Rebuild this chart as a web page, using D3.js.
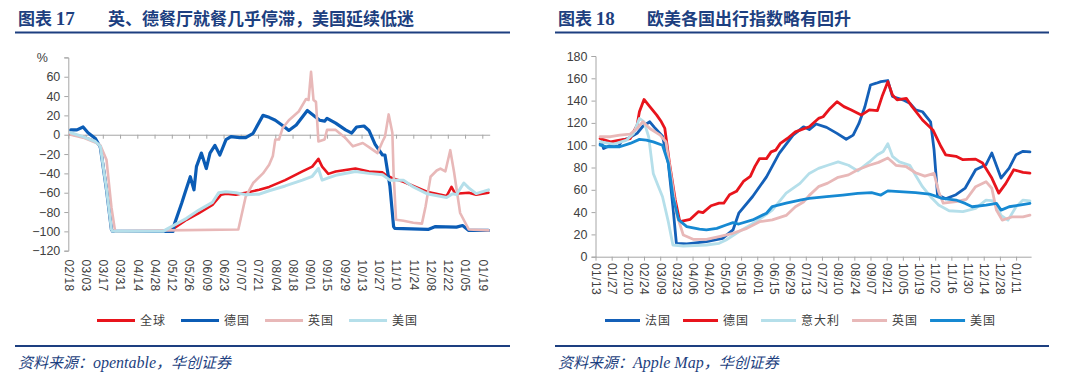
<!DOCTYPE html>
<html>
<head>
<meta charset="utf-8">
<script src="https://cdn.jsdelivr.net/npm/d3@7"></script>
<style>
  body { margin: 0; background: #fff; }
</style>
</head>
<body>
<div id="chart"></div>
<script>
// ---- chart 17: restaurant dining (opentable), % yoy ----
const diningNames = ["全球", "德国", "英国", "美国"];
const diningColors = ["#e8141c", "#0b5cb5", "#e8b8b8", "#b5dfea"];
const diningTicks = ["2020-02-18", "2020-03-03", "2020-03-17", "2020-03-31", "2020-04-14", "2020-04-28",
  "2020-05-12", "2020-05-26", "2020-06-09", "2020-06-23", "2020-07-07", "2020-07-21", "2020-08-04",
  "2020-08-18", "2020-09-01", "2020-09-15", "2020-09-29", "2020-10-13", "2020-10-27", "2020-11-10",
  "2020-11-24", "2020-12-08", "2020-12-22", "2021-01-05", "2021-01-19"];
const diningYTicks = [-120, -100, -80, -60, -40, -20, 0, 20, 40, 60, 80];

const diningGlobal = [["2020-02-20", 0.5], ["2020-03-01", -2], ["2020-03-11", -7], ["2020-03-15", -12],
  ["2020-03-20", -55], ["2020-03-24", -98], ["2020-03-25", -100], ["2020-05-08", -100], ["2020-05-13", -97.6],
  ["2020-05-24", -88], ["2020-06-03", -81], ["2020-06-14", -72.7], ["2020-06-21", -62], ["2020-06-25", -61],
  ["2020-07-03", -62], ["2020-07-11", -60], ["2020-07-22", -57], ["2020-07-30", -54], ["2020-08-12", -47],
  ["2020-08-26", -38], ["2020-09-03", -33], ["2020-09-08", -25], ["2020-09-11", -33], ["2020-09-16", -40.5],
  ["2020-09-22", -38], ["2020-10-08", -35], ["2020-10-19", -38], ["2020-10-30", -39], ["2020-11-01", -41],
  ["2020-11-07", -45], ["2020-11-16", -48.6], ["2020-11-24", -53], ["2020-12-05", -59], ["2020-12-21", -63.5],
  ["2020-12-25", -54], ["2020-12-28", -61], ["2021-01-08", -60], ["2021-01-14", -62], ["2021-01-24", -60]];

const diningGermany = [["2020-02-20", 5], ["2020-02-25", 5], ["2020-03-01", 8], ["2020-03-05", 2],
  ["2020-03-11", -4], ["2020-03-15", -13], ["2020-03-20", -57], ["2020-03-24", -98], ["2020-03-25", -100],
  ["2020-05-13", -100], ["2020-05-14", -93], ["2020-05-20", -71], ["2020-05-23", -59], ["2020-05-27", -43.5],
  ["2020-05-30", -57], ["2020-06-01", -33], ["2020-06-05", -19], ["2020-06-09", -35], ["2020-06-12", -19],
  ["2020-06-16", -11], ["2020-06-20", -21], ["2020-06-25", -5], ["2020-06-29", -2], ["2020-07-06", -3],
  ["2020-07-11", -3], ["2020-07-17", 1.5], ["2020-07-25", 20], ["2020-07-30", 18], ["2020-08-04", 15],
  ["2020-08-11", 8.5], ["2020-08-15", 4.4], ["2020-08-21", 10], ["2020-08-30", 25], ["2020-09-09", 15],
  ["2020-09-13", 14], ["2020-09-15", 17], ["2020-09-22", 12], ["2020-09-30", 5], ["2020-10-05", 1.7],
  ["2020-10-09", 8], ["2020-10-15", 9], ["2020-10-19", 4.4], ["2020-10-24", -10], ["2020-10-30", -21],
  ["2020-11-01", -21], ["2020-11-02", -29], ["2020-11-05", -53], ["2020-11-08", -95], ["2020-11-09", -97],
  ["2020-12-06", -98], ["2020-12-12", -95], ["2020-12-29", -95.6], ["2021-01-03", -94], ["2021-01-08", -99],
  ["2021-01-24", -99]];

const diningUK = [["2020-02-20", 0], ["2020-03-01", -3], ["2020-03-11", -8], ["2020-03-15", -11],
  ["2020-03-20", -26], ["2020-03-24", -75], ["2020-03-27", -100], ["2020-05-08", -99], ["2020-07-05", -98],
  ["2020-07-11", -64], ["2020-07-17", -50], ["2020-07-25", -40], ["2020-07-30", -31], ["2020-08-02", -22],
  ["2020-08-04", -5], ["2020-08-07", -5], ["2020-08-10", 7], ["2020-08-15", 15], ["2020-08-23", 24],
  ["2020-08-29", 37], ["2020-08-31", 36], ["2020-09-02", 65], ["2020-09-04", 36], ["2020-09-06", 34],
  ["2020-09-08", -7], ["2020-09-13", -5], ["2020-09-15", 5], ["2020-09-22", 5], ["2020-09-30", -3.5],
  ["2020-10-06", -12], ["2020-10-14", -8.6], ["2020-10-19", -12.8], ["2020-10-26", -19], ["2020-10-30", -7],
  ["2020-11-01", -2], ["2020-11-04", 21], ["2020-11-07", 2], ["2020-11-08", -40], ["2020-11-10", -88],
  ["2020-11-16", -89], ["2020-11-24", -91], ["2020-12-01", -92], ["2020-12-04", -74], ["2020-12-08", -43.5],
  ["2020-12-13", -37], ["2020-12-16", -35], ["2020-12-20", -38], ["2020-12-24", -16], ["2020-12-27", -38],
  ["2021-01-01", -81], ["2021-01-08", -98], ["2021-01-24", -99]];

const diningUS = [["2020-02-20", 2], ["2020-03-01", -2], ["2020-03-11", -7], ["2020-03-15", -12],
  ["2020-03-20", -56], ["2020-03-24", -98], ["2020-03-25", -100], ["2020-05-05", -100], ["2020-05-08", -97.7],
  ["2020-05-24", -86.5], ["2020-06-03", -78], ["2020-06-14", -70], ["2020-06-19", -60], ["2020-06-25", -59],
  ["2020-07-03", -60], ["2020-07-11", -62], ["2020-07-22", -61.5], ["2020-07-30", -58], ["2020-08-12", -53],
  ["2020-08-26", -47], ["2020-09-03", -43], ["2020-09-08", -35], ["2020-09-11", -47], ["2020-09-16", -44.6],
  ["2020-09-22", -42], ["2020-10-08", -38], ["2020-10-19", -40], ["2020-10-30", -41.4], ["2020-11-05", -47],
  ["2020-11-16", -47], ["2020-11-24", -54], ["2020-12-05", -61], ["2020-12-21", -65], ["2020-12-26", -61],
  ["2020-12-29", -62], ["2021-01-04", -50], ["2021-01-08", -55], ["2021-01-14", -61], ["2021-01-24", -57]];

// ---- chart 18: mobility index (Apple Maps) ----
const mobilityNames = ["法国", "德国", "意大利", "英国", "美国"];
const mobilityColors = ["#1460b8", "#e8141c", "#b5dfea", "#e8b8b8", "#1689d2"];
const mobilityTicks = ["2020-01-13", "2020-01-27", "2020-02-10", "2020-02-24", "2020-03-09", "2020-03-23",
  "2020-04-06", "2020-04-20", "2020-05-04", "2020-05-18", "2020-06-01", "2020-06-15", "2020-06-29",
  "2020-07-13", "2020-07-27", "2020-08-10", "2020-08-24", "2020-09-07", "2020-09-21", "2020-10-05",
  "2020-10-19", "2020-11-02", "2020-11-16", "2020-11-30", "2020-12-14", "2020-12-28", "2021-01-11"];
const mobilityYTicks = [0, 20, 40, 60, 80, 100, 120, 140, 160, 180];

const mobFrance = [["2020-01-17", 101], ["2020-01-18", 103], ["2020-01-20", 97], ["2020-01-26", 100],
  ["2020-02-02", 99], ["2020-02-05", 104.5], ["2020-02-10", 106], ["2020-02-18", 110.6], ["2020-02-23", 117],
  ["2020-02-29", 121], ["2020-03-04", 116], ["2020-03-11", 108], ["2020-03-16", 84], ["2020-03-20", 45],
  ["2020-03-23", 12], ["2020-04-01", 11.4], ["2020-04-18", 13.5], ["2020-05-02", 16.4], ["2020-05-11", 24],
  ["2020-05-16", 39], ["2020-05-28", 54], ["2020-06-09", 71.6], ["2020-06-20", 92.6], ["2020-07-02", 109],
  ["2020-07-11", 116.5], ["2020-07-16", 114], ["2020-07-22", 119], ["2020-07-31", 116], ["2020-08-09", 110.6],
  ["2020-08-17", 105.3], ["2020-08-23", 109], ["2020-08-28", 119.5], ["2020-09-02", 134], ["2020-09-07", 154],
  ["2020-09-12", 155.6], ["2020-09-16", 157], ["2020-09-22", 158], ["2020-09-26", 143.7], ["2020-10-05", 140.7],
  ["2020-10-11", 137.7], ["2020-10-16", 131.8], ["2020-10-22", 130], ["2020-10-29", 121], ["2020-11-01", 96],
  ["2020-11-04", 55.6], ["2020-11-11", 52], ["2020-11-20", 55.6], ["2020-11-28", 61.6], ["2020-12-07", 78],
  ["2020-12-16", 82.5], ["2020-12-21", 93], ["2020-12-29", 70.5], ["2021-01-05", 79.5], ["2021-01-11", 91.5],
  ["2021-01-17", 94.5], ["2021-01-23", 94]];

const mobGermany = [["2020-01-17", 106], ["2020-01-26", 103], ["2020-02-03", 104.5], ["2020-02-12", 106],
  ["2020-02-18", 118], ["2020-02-20", 130], ["2020-02-24", 141], ["2020-02-29", 134.6], ["2020-03-06", 127],
  ["2020-03-10", 121], ["2020-03-13", 115], ["2020-03-17", 84], ["2020-03-22", 51], ["2020-03-26", 31.4],
  ["2020-04-04", 33.5], ["2020-04-11", 40.4], ["2020-04-15", 39.5], ["2020-04-22", 45.7], ["2020-04-29", 48],
  ["2020-05-03", 48], ["2020-05-08", 55.6], ["2020-05-14", 58.6], ["2020-05-20", 67.5], ["2020-05-26", 72],
  ["2020-05-30", 81], ["2020-06-03", 88], ["2020-06-09", 88], ["2020-06-13", 94], ["2020-06-17", 95.6],
  ["2020-06-21", 101.6], ["2020-06-27", 106], ["2020-07-04", 112], ["2020-07-16", 116.6], ["2020-07-24", 124],
  ["2020-07-28", 125.5], ["2020-08-03", 133], ["2020-08-09", 139], ["2020-08-15", 134.6], ["2020-08-21", 131.7],
  ["2020-08-30", 127], ["2020-09-06", 131.7], ["2020-09-13", 131], ["2020-09-17", 143.6], ["2020-09-22", 157],
  ["2020-09-26", 145], ["2020-09-30", 140.7], ["2020-10-08", 142], ["2020-10-13", 134.6], ["2020-10-22", 122.6],
  ["2020-10-31", 113.7], ["2020-11-07", 98.8], ["2020-11-11", 91.4], ["2020-11-20", 90], ["2020-11-26", 87],
  ["2020-12-07", 87.5], ["2020-12-13", 84], ["2020-12-21", 70.5], ["2020-12-27", 57], ["2021-01-02", 65.5],
  ["2021-01-09", 78], ["2021-01-17", 75.6], ["2021-01-23", 75]];

const mobItaly = [["2020-01-17", 103], ["2020-01-29", 101], ["2020-02-09", 104.6], ["2020-02-15", 110.6],
  ["2020-02-20", 124], ["2020-02-24", 121], ["2020-02-28", 107.6], ["2020-03-03", 74.7], ["2020-03-07", 64],
  ["2020-03-11", 53.8], ["2020-03-16", 31.4], ["2020-03-20", 10.5], ["2020-03-29", 9.6], ["2020-04-18", 10.5],
  ["2020-04-29", 12], ["2020-05-05", 15], ["2020-05-16", 22.4], ["2020-05-31", 31.4], ["2020-06-14", 41.8],
  ["2020-06-26", 57], ["2020-07-08", 65.8], ["2020-07-16", 74.7], ["2020-07-24", 79.2], ["2020-08-01", 82],
  ["2020-08-10", 85], ["2020-08-19", 82], ["2020-08-27", 77], ["2020-09-06", 85], ["2020-09-13", 91.4],
  ["2020-09-18", 94.4], ["2020-09-22", 101.3], ["2020-09-26", 90], ["2020-10-02", 85], ["2020-10-11", 82],
  ["2020-10-16", 73], ["2020-10-22", 62.8], ["2020-10-29", 53.8], ["2020-11-05", 46.3], ["2020-11-14", 41.2],
  ["2020-11-26", 40.4], ["2020-12-07", 43.3], ["2020-12-16", 50.8], ["2020-12-23", 50], ["2020-12-29", 37],
  ["2021-01-04", 32.8], ["2021-01-11", 44.8], ["2021-01-17", 50.8], ["2021-01-23", 50]];

const mobUK = [["2020-01-17", 107.6], ["2020-01-26", 107.6], ["2020-02-03", 109], ["2020-02-12", 110],
  ["2020-02-18", 115], ["2020-02-23", 121], ["2020-02-29", 115], ["2020-03-09", 109], ["2020-03-14", 103],
  ["2020-03-19", 68.8], ["2020-03-23", 39], ["2020-03-29", 19.4], ["2020-04-07", 15.5], ["2020-04-18", 15.5],
  ["2020-04-29", 18], ["2020-05-11", 21], ["2020-05-23", 25.4], ["2020-06-03", 31.4], ["2020-06-14", 33],
  ["2020-06-26", 37], ["2020-07-04", 44.8], ["2020-07-11", 49], ["2020-07-16", 55], ["2020-07-24", 62.8],
  ["2020-08-01", 66], ["2020-08-10", 71.2], ["2020-08-19", 73.4], ["2020-08-27", 78], ["2020-09-06", 82],
  ["2020-09-14", 84.6], ["2020-09-22", 88.5], ["2020-09-29", 82], ["2020-10-08", 80.7], ["2020-10-16", 75.3],
  ["2020-10-24", 72.3], ["2020-11-01", 74.7], ["2020-11-05", 58.3], ["2020-11-09", 48], ["2020-11-20", 49.3],
  ["2020-11-29", 51.5], ["2020-12-07", 62.8], ["2020-12-16", 67.3], ["2020-12-21", 61.4], ["2020-12-25", 41.8],
  ["2020-12-30", 32.8], ["2021-01-08", 35.8], ["2021-01-17", 35.8], ["2021-01-23", 37.3]];

const mobUS = [["2020-01-17", 100], ["2020-01-23", 98.6], ["2020-02-03", 98.6], ["2020-02-12", 101.6],
  ["2020-02-20", 105.2], ["2020-02-26", 104.6], ["2020-03-03", 103], ["2020-03-11", 100], ["2020-03-16", 84],
  ["2020-03-20", 54], ["2020-03-25", 33], ["2020-04-01", 27], ["2020-04-12", 24.7], ["2020-04-18", 24],
  ["2020-04-27", 25.4], ["2020-05-05", 28.4], ["2020-05-11", 30.5], ["2020-05-16", 29.3], ["2020-05-28", 33],
  ["2020-06-09", 39], ["2020-06-14", 45], ["2020-06-26", 48], ["2020-07-08", 50.8], ["2020-07-16", 52.3],
  ["2020-07-31", 53.8], ["2020-08-14", 55.3], ["2020-08-27", 56.8], ["2020-09-08", 57.4], ["2020-09-16", 55.3],
  ["2020-09-22", 59], ["2020-10-02", 58.3], ["2020-10-16", 57.4], ["2020-10-28", 56.2], ["2020-11-08", 52.3],
  ["2020-11-20", 50.8], ["2020-11-28", 47.8], ["2020-12-04", 44.8], ["2020-12-16", 46.3], ["2020-12-25", 47.8],
  ["2020-12-29", 41.8], ["2021-01-05", 44.8], ["2021-01-14", 46.3], ["2021-01-23", 47.8]];

const width = 1080;
const height = 384;
const navy = "#1d3f80";
const axisColor = "#a6a6a6";
const textColor = "#404040";
const parse = d3.timeParse("%Y-%m-%d");
const fmtDay = d3.timeFormat("%m/%d");

const svg = d3
  .select("#chart")
  .append("svg")
  .attr("width", width)
  .attr("height", height)
  .style("background", "#fff");

function drawPanel(p) {
  const g = svg.append("g");

  // header + footer
  const title = g.append("text")
    .attr("x", p.left)
    .attr("y", 25)
    .attr("fill", navy)
    .style("font-family", "'Noto Sans CJK SC'")
    .style("font-weight", "bold")
    .style("font-size", "17px");
  title.append("tspan").text("图表 ");
  title.append("tspan")
    .style("font-family", "'Liberation Serif'")
    .style("font-size", "19px")
    .text(p.number);
  g.append("text")
    .attr("x", p.titleX)
    .attr("y", 25)
    .attr("fill", navy)
    .style("font-family", "'Noto Sans CJK SC'")
    .style("font-weight", "bold")
    .style("font-size", "17px")
    .text(p.title);

  g.append("line")
    .attr("x1", p.left - 3).attr("x2", p.right)
    .attr("y1", 32.5).attr("y2", 32.5)
    .attr("stroke", navy).attr("stroke-width", 2);
  g.append("line")
    .attr("x1", p.left - 3).attr("x2", p.right)
    .attr("y1", 346).attr("y2", 346)
    .attr("stroke", navy).attr("stroke-width", 2);

  const src = g.append("text")
    .attr("x", p.left)
    .attr("y", 368)
    .attr("fill", navy)
    .style("font-style", "italic")
    .style("font-size", "15px")
    .style("font-family", "'Noto Sans CJK SC'");
  src.append("tspan").text("资料来源：");
  src.append("tspan").style("font-family", "'Liberation Serif'").style("font-size", "16px").text(p.source);
  src.append("tspan").text("，华创证券");

  // scales
  const x = d3.scaleTime()
    .domain([parse(p.xStart), parse(p.xEnd)])
    .range([p.x0, p.x1]);
  const y = d3.scaleLinear()
    .domain([p.yTicks[0], p.yTicks[p.yTicks.length - 1]])
    .range([p.yBottom, p.yTop]);

  // y axis
  const yAxis = g.append("g")
    .attr("transform", `translate(${p.x0},0)`)
    .call(d3.axisLeft(y).tickValues(p.yTicks).tickSize(4).tickPadding(4)
      .tickFormat((d) => (p.pctLabel && d === p.yTicks[p.yTicks.length - 1] ? "" : d3.format("d")(d))));
  yAxis.select(".domain").attr("stroke", axisColor);
  yAxis.selectAll(".tick line").attr("stroke", axisColor);
  yAxis.selectAll(".tick text")
    .attr("fill", textColor)
    .style("font-family", "'Liberation Sans', Arial")
    .style("font-size", "12.5px");

  if (p.pctLabel) {
    g.append("text")
      .attr("x", p.x0 - 26)
      .attr("y", y(p.yTicks[p.yTicks.length - 1]) + 5)
      .attr("text-anchor", "middle")
      .attr("fill", textColor)
      .style("font-family", "'Liberation Sans', Arial")
      .style("font-size", "12.5px")
      .text("%");
  }

  // x axis line with ticks at the zero / base line
  const baseY = y(p.xAxisAt);
  const xAxis = g.append("g")
    .attr("transform", `translate(0,${baseY})`)
    .call(d3.axisBottom(x).tickValues(p.xTicks.map(parse)).tickSize(4).tickSizeOuter(0).tickFormat(""));
  xAxis.select(".domain").attr("stroke", axisColor);
  xAxis.selectAll(".tick line").attr("stroke", axisColor);

  // rotated date labels below the plot
  g.append("g")
    .selectAll("text")
    .data(p.xTicks)
    .join("text")
    .attr("transform", (d) => `translate(${x(parse(d)) + 0.5},${p.labelY}) rotate(90)`)
    .attr("dy", "0.35em")
    .attr("text-anchor", "start")
    .attr("fill", textColor)
    .style("font-family", "'Liberation Sans', Arial")
    .style("font-size", "12px")
    .style("letter-spacing", "0.4px")
    .text((d) => fmtDay(parse(d)));

  // series
  const line = d3.line()
    .x((d) => x(parse(d[0])))
    .y((d) => y(d[1]));

  g.append("g")
    .selectAll("path")
    .data(p.series)
    .join("path")
    .attr("d", (d) => line(d))
    .attr("fill", "none")
    .attr("stroke", (d, i) => p.colors[i])
    .attr("stroke-width", (d, i) => p.widths[i])
    .attr("stroke-linejoin", "round")
    .attr("stroke-linecap", "round");

  // legend
  let lx = p.legendX;
  p.names.forEach((name, i) => {
    g.append("line")
      .attr("x1", lx).attr("x2", lx + p.legendLine)
      .attr("y1", 320.5).attr("y2", 320.5)
      .attr("stroke", p.colors[i])
      .attr("stroke-width", 3);
    const t = g.append("text")
      .attr("x", lx + p.legendLine + 5)
      .attr("y", 325)
      .attr("fill", textColor)
      .style("font-family", "'Noto Sans CJK SC'")
      .style("font-size", "12px")
      .style("letter-spacing", "1px")
      .text(name);
    lx += p.legendLine + 5 + t.node().getComputedTextLength() + p.legendGap;
  });
}

drawPanel({
  number: "17",
  title: "英、德餐厅就餐几乎停滞，美国延续低迷",
  source: "opentable",
  left: 18, right: 510, titleX: 108,
  xStart: "2020-02-18", xEnd: "2021-01-25",
  x0: 68.3, x1: 489.7,
  yTicks: diningYTicks, yBottom: 250.7, yTop: 57.4,
  pctLabel: true, xAxisAt: 0, labelY: 259.5,
  xTicks: diningTicks,
  series: [diningGlobal, diningGermany, diningUK, diningUS],
  names: diningNames, colors: diningColors,
  widths: [2.6, 3.2, 2.6, 3],
  legendX: 97, legendLine: 38, legendGap: 15
});

drawPanel({
  number: "18",
  title: "欧美各国出行指数略有回升",
  source: "Apple Map",
  left: 558, right: 1049, titleX: 647,
  xStart: "2020-01-13", xEnd: "2021-01-24",
  x0: 595.5, x1: 1031.1,
  yTicks: mobilityYTicks, yBottom: 256.7, yTop: 56,
  pctLabel: false, xAxisAt: 0, labelY: 263,
  xTicks: mobilityTicks,
  series: [mobFrance, mobGermany, mobItaly, mobUK, mobUS],
  names: mobilityNames, colors: mobilityColors,
  widths: [2.8, 2.8, 2.8, 2.8, 2.8],
  legendX: 605, legendLine: 35, legendGap: 12
});
</script>
</body>
</html>
